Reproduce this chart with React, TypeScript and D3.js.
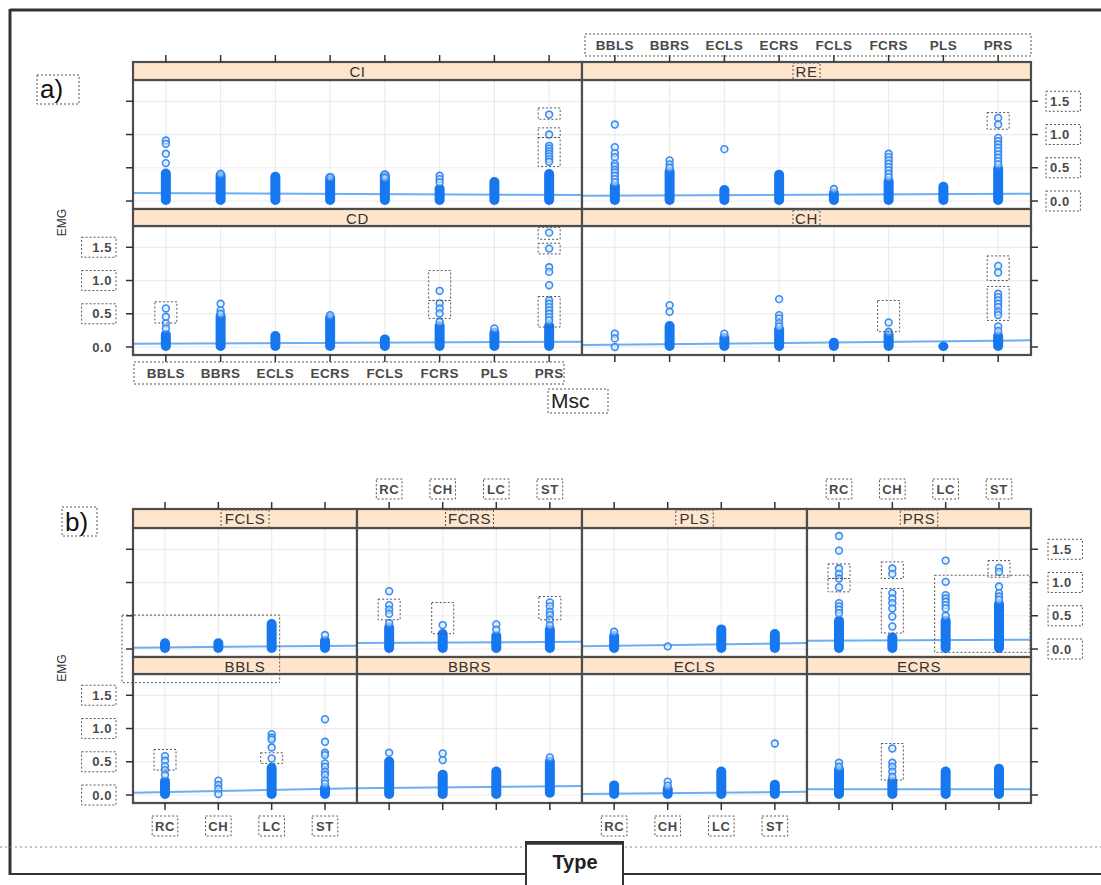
import React from "react";
import * as d3 from "d3";

// ---------- categories & ticks ----------
const mscLevels = ["BBLS", "BBRS", "ECLS", "ECRS", "FCLS", "FCRS", "PLS", "PRS"];
const typeLevels = ["RC", "CH", "LC", "ST"];
const yTickValues = [0, 0.5, 1.0, 1.5];
const yTickLabels = ["0.0", "0.5", "1.0", "1.5"];
const yDomain = [-0.12, 1.82];

// ---------- panel a) : EMG by Msc, conditioned on type ----------
// dense cores [lo, hi] (null = no dense core) and individual points
const ciCore = [[0, 0.43], [0, 0.4], [0, 0.38], [0, 0.36], [0, 0.4], [0, 0.2], [0, 0.3], [0, 0.42]];
const ciPoints = [[0.91, 0.86, 0.71, 0.57], [0.41], [], [0.36], [0.4, 0.35], [0.38, 0.33, 0.28], [], [1.3, 1.0, 0.83, 0.79, 0.75, 0.71, 0.67, 0.63, 0.59]];
const ciFit = [0.12, 0.09];

const reCore = [[0, 0.24], [0, 0.46], [0, 0.18], [0, 0.41], [0, 0.13], [0, 0.31], [0, 0.23], [0, 0.5]];
const rePoints = [[1.15, 0.81, 0.72, 0.66, 0.56, 0.52, 0.47, 0.43, 0.38, 0.33, 0.28], [0.61, 0.55, 0.5], [0.78], [], [0.18], [0.71, 0.66, 0.61, 0.56, 0.51, 0.46, 0.41, 0.36], [], [1.25, 1.15, 0.95, 0.9, 0.85, 0.8, 0.75, 0.7, 0.65, 0.6, 0.55]];
const reFit = [0.08, 0.11];

const cdCore = [[0, 0.2], [0, 0.48], [0, 0.18], [0, 0.46], [0, 0.13], [0, 0.33], [0, 0.23], [0, 0.33]];
const cdPoints = [[0.58, 0.455, 0.355, 0.28], [0.65, 0.55, 0.5], [], [0.48], [], [0.845, 0.655, 0.58, 0.505, 0.38], [0.28], [1.72, 1.48, 1.2, 1.13, 0.93, 0.7, 0.65, 0.6, 0.55, 0.5, 0.45, 0.4]];
const cdFit = [0.05, 0.08];

const chCore = [null, [0, 0.33], [0, 0.15], [0, 0.28], [0, 0.08], [0, 0.2], [0, 0.02], [0, 0.18]];
const chPoints = [[0.2, 0.13, 0.0], [0.63, 0.53], [0.2], [0.72, 0.48, 0.43, 0.36, 0.31], [], [0.37, 0.23], [], [1.22, 1.12, 0.8, 0.75, 0.7, 0.65, 0.6, 0.53, 0.48, 0.31, 0.24]];
const chFit = [0.03, 0.1];

// ---------- panel b) : EMG by Type, conditioned on Msc ----------
const fclsCore = [[0, 0.1], [0, 0.1], [0, 0.39], [0, 0.14]];
const fclsPoints = [[], [], [], [0.21]];
const fclsFit = [0.02, 0.05];

const fcrsCore = [[0, 0.34], [0, 0.24], [0, 0.21], [0, 0.31]];
const fcrsPoints = [[0.87, 0.66, 0.59, 0.53, 0.39], [0.36], [0.37, 0.29], [0.7, 0.64, 0.56, 0.51, 0.44, 0.36]];
const fcrsFit = [0.09, 0.11];

const plsCore = [[0, 0.21], null, [0, 0.31], [0, 0.24]];
const plsPoints = [[0.26], [0.04], [], []];
const plsFit = [0.04, 0.09];

const prsCore = [[0, 0.44], [0, 0.19], [0, 0.44], [0, 0.69]];
const prsPoints = [[1.7, 1.48, 1.21, 1.13, 1.06, 0.93, 0.69, 0.64, 0.59, 0.54], [1.21, 1.13, 0.84, 0.76, 0.69, 0.61, 0.49, 0.34], [1.33, 1.01, 0.81, 0.76, 0.71, 0.66, 0.61, 0.5], [1.22, 1.16, 0.94, 0.84, 0.79, 0.74]];
const prsFit = [0.125, 0.14];

const bblsCore = [[0, 0.22], null, [0, 0.42], [0, 0.12]];
const bblsPoints = [[0.585, 0.515, 0.435, 0.375, 0.3], [0.215, 0.15, 0.09, 0.015], [0.915, 0.865, 0.835, 0.715, 0.55], [1.14, 0.8, 0.635, 0.6, 0.475, 0.425, 0.35, 0.3, 0.22, 0.17]];
const bblsFit = [0.035, 0.1];

const bbrsCore = [[0, 0.52], [0, 0.32], [0, 0.37], [0.02, 0.52]];
const bbrsPoints = [[0.635], [0.625, 0.525], [], [0.565]];
const bbrsFit = [0.1, 0.135];

const eclsCore = [[0, 0.16], [0, 0.1], [0, 0.37], [0, 0.17]];
const eclsPoints = [[], [0.2, 0.14], [], [0.775]];
const eclsFit = [0.015, 0.05];

const ecrsCore = [[0, 0.4], [0, 0.22], [0, 0.37], [0, 0.41]];
const ecrsPoints = [[0.485, 0.425], [0.7, 0.485, 0.425, 0.35, 0.275], [], []];
const ecrsFit = [0.085, 0.085];

// dotted annotation boxes around point clusters: [panel, category, lo, hi]
const clusterBoxes: [string, string, number, number][] = [
  ["CI", "PRS", 1.23, 1.4], ["CI", "PRS", 0.955, 1.1], ["CI", "PRS", 0.52, 0.955],
  ["RE", "PRS", 1.08, 1.33],
  ["CD", "BBLS", 0.36, 0.68], ["CD", "FCRS", 0.7, 1.15], ["CD", "FCRS", 0.43, 0.7],
  ["CD", "PRS", 1.62, 1.8], ["CD", "PRS", 1.4, 1.56], ["CD", "PRS", 0.3, 0.76],
  ["CH", "FCRS", 0.23, 0.7], ["CH", "PRS", 1.0, 1.37], ["CH", "PRS", 0.4, 0.91],
  ["FCRS", "RC", 0.44, 0.75], ["FCRS", "CH", 0.23, 0.7], ["FCRS", "ST", 0.44, 0.79],
  ["PRS", "RC", 1.06, 1.28], ["PRS", "RC", 0.86, 1.06], ["PRS", "CH", 1.06, 1.31], ["PRS", "CH", 0.24, 0.91], ["PRS", "ST", 1.08, 1.33],
  ["BBLS", "RC", 0.375, 0.685], ["BBLS", "LC", 0.475, 0.635],
  ["ECRS", "CH", 0.225, 0.775],
];

// ---------- layout ----------
const FONT = "'Liberation Sans', Arial, Helvetica, sans-serif";
const colsA = [133, 582, 1031];
const rowsA = [{ strip: 62, top: 80, bot: 209 }, { strip: 209, top: 226, bot: 355 }];
const colsB = [133, 357, 582, 807, 1031];
const rowsB = [{ strip: 509, top: 528, bot: 657 }, { strip: 657, top: 674, bot: 803 }];

const STROKE = "#4d4d4d";
const DOT = "2,2";

type Row = { strip: number; top: number; bot: number };
type Spec = { name: string; cats: string[]; core: (number[] | null)[]; pts: number[][]; fit: number[]; x0: number; x1: number; row: Row; boxLabel?: boolean };

const xScale = (cats: string[], x0: number, x1: number) => d3.scalePoint<string>().domain(cats).range([x0, x1]).padding(0.6);
const yScale = (row: Row) => d3.scaleLinear().domain(yDomain).range([row.bot, row.top]);

function Panel({ s }: { s: Spec }) {
  const x = xScale(s.cats, s.x0, s.x1);
  const y = yScale(s.row);
  const cx = (s.x0 + s.x1) / 2;
  const labW = s.name.length * 10.5 + 6;
  const boxes = clusterBoxes.filter((b) => b[0] === s.name && s.cats.includes(b[1]));
  return (
    <g>
      <rect x={s.x0} y={s.row.top} width={s.x1 - s.x0} height={s.row.bot - s.row.top} fill="#fff" />
      {s.cats.map((c) => (
        <line key={"gv" + c} x1={x(c)} x2={x(c)} y1={s.row.top} y2={s.row.bot} stroke="#ececec" strokeWidth={1.2} />
      ))}
      {yTickValues.map((v) => (
        <line key={"gh" + v} x1={s.x0} x2={s.x1} y1={y(v)} y2={y(v)} stroke="#ececec" strokeWidth={1.2} />
      ))}
      <line x1={s.x0} x2={s.x1} y1={y(s.fit[0])} y2={y(s.fit[1])} stroke="#6aaef3" strokeWidth={2} />
      {s.cats.map((c, i) => {
        const r = s.core[i];
        if (!r) return null;
        return <rect key={"core" + c} x={(x(c) as number) - 5} y={y(r[1]) - 4} width={10} height={y(r[0]) - y(r[1]) + 8} rx={5} fill="#1677ee" />;
      })}
      {s.cats.map((c, i) =>
        s.pts[i].map((v, j) => (
          <circle key={"p" + c + j} cx={x(c)} cy={y(v)} r={3.4} fill="#d6e8fd" fillOpacity={0.6} stroke="#3a8cf0" strokeWidth={1.6} />
        ))
      )}
      {boxes.map((b, k) => (
        <rect key={"cb" + k} x={(x(b[1]) as number) - 11} y={y(b[3])} width={22} height={y(b[2]) - y(b[3])} fill="none" stroke="#555" strokeDasharray={DOT} strokeWidth={1} />
      ))}
      <rect x={s.x0} y={s.row.top} width={s.x1 - s.x0} height={s.row.bot - s.row.top} fill="none" stroke={STROKE} strokeWidth={2.2} />
      <rect x={s.x0} y={s.row.strip} width={s.x1 - s.x0} height={s.row.top - s.row.strip} fill="#ffe5cc" stroke={STROKE} strokeWidth={2.2} />
      <text x={cx} y={s.row.strip + 14.5} textAnchor="middle" fontFamily={FONT} fontSize={15} fill="#333" letterSpacing={0.6}>{s.name}</text>
      {s.boxLabel && (
        <rect x={cx - labW / 2} y={s.row.strip + 1} width={labW} height={s.row.top - s.row.strip - 1} fill="none" stroke="#555" strokeDasharray={DOT} strokeWidth={1} />
      )}
    </g>
  );
}

function TickLabel({ x, y, text, anchor = "middle", box = true }: { x: number; y: number; text: string; anchor?: string; box?: boolean }) {
  const w = text.length * 8.8 + 8;
  const bx = anchor === "middle" ? x - w / 2 : anchor === "end" ? x - w + 4 : x - 4;
  return (
    <g>
      <text x={x} y={y + 4.5} textAnchor={anchor as any} fontFamily={FONT} fontWeight="bold" fontSize={13} fill="#4a4a4a" letterSpacing={0.6}>{text}</text>
      {box && <rect x={bx} y={y - 10} width={w} height={20} fill="none" stroke="#555" strokeDasharray={DOT} strokeWidth={1} />}
    </g>
  );
}

export default function App() {
  const specsA: Spec[] = [
    { name: "CI", cats: mscLevels, core: ciCore, pts: ciPoints, fit: ciFit, x0: colsA[0], x1: colsA[1], row: rowsA[0] },
    { name: "RE", cats: mscLevels, core: reCore, pts: rePoints, fit: reFit, x0: colsA[1], x1: colsA[2], row: rowsA[0], boxLabel: true },
    { name: "CD", cats: mscLevels, core: cdCore, pts: cdPoints, fit: cdFit, x0: colsA[0], x1: colsA[1], row: rowsA[1] },
    { name: "CH", cats: mscLevels, core: chCore, pts: chPoints, fit: chFit, x0: colsA[1], x1: colsA[2], row: rowsA[1], boxLabel: true },
  ];
  const topB = [
    { name: "FCLS", core: fclsCore, pts: fclsPoints, fit: fclsFit },
    { name: "FCRS", core: fcrsCore, pts: fcrsPoints, fit: fcrsFit },
    { name: "PLS", core: plsCore, pts: plsPoints, fit: plsFit },
    { name: "PRS", core: prsCore, pts: prsPoints, fit: prsFit },
  ];
  const botB = [
    { name: "BBLS", core: bblsCore, pts: bblsPoints, fit: bblsFit },
    { name: "BBRS", core: bbrsCore, pts: bbrsPoints, fit: bbrsFit },
    { name: "ECLS", core: eclsCore, pts: eclsPoints, fit: eclsFit },
    { name: "ECRS", core: ecrsCore, pts: ecrsPoints, fit: ecrsFit },
  ];
  const specsB: Spec[] = [
    ...topB.map((d, i) => ({ ...d, cats: typeLevels, x0: colsB[i], x1: colsB[i + 1], row: rowsB[0], boxLabel: true })),
    ...botB.map((d, i) => ({ ...d, cats: typeLevels, x0: colsB[i], x1: colsB[i + 1], row: rowsB[1] })),
  ];

  const yA0 = yScale(rowsA[0]);
  const yA1 = yScale(rowsA[1]);
  const yB0 = yScale(rowsB[0]);
  const yB1 = yScale(rowsB[1]);

  const tickLine = (k: string, x1: number, y1: number, x2: number, y2: number) => (
    <line key={k} x1={x1} y1={y1} x2={x2} y2={y2} stroke="#333" strokeWidth={1.5} />
  );

  const ticks: JSX.Element[] = [];
  [0, 1].forEach((ci) => {
    const x = xScale(mscLevels, colsA[ci], colsA[ci + 1]);
    mscLevels.forEach((m) => {
      ticks.push(tickLine(`at${ci}${m}`, x(m)!, rowsA[0].strip - 7, x(m)!, rowsA[0].strip));
      ticks.push(tickLine(`ab${ci}${m}`, x(m)!, rowsA[1].bot, x(m)!, rowsA[1].bot + 7));
    });
  });
  [yA0, yA1].forEach((ys, ri) => {
    yTickValues.forEach((v) => {
      ticks.push(tickLine(`al${ri}${v}`, colsA[0] - 7, ys(v), colsA[0], ys(v)));
      ticks.push(tickLine(`ar${ri}${v}`, colsA[2], ys(v), colsA[2] + 7, ys(v)));
    });
  });
  [0, 1, 2, 3].forEach((ci) => {
    const x = xScale(typeLevels, colsB[ci], colsB[ci + 1]);
    typeLevels.forEach((t) => {
      ticks.push(tickLine(`bt${ci}${t}`, x(t)!, rowsB[0].strip - 7, x(t)!, rowsB[0].strip));
      ticks.push(tickLine(`bb${ci}${t}`, x(t)!, rowsB[1].bot, x(t)!, rowsB[1].bot + 7));
    });
  });
  [yB0, yB1].forEach((ys, ri) => {
    yTickValues.forEach((v) => {
      ticks.push(tickLine(`bl${ri}${v}`, colsB[0] - 7, ys(v), colsB[0], ys(v)));
      ticks.push(tickLine(`br${ri}${v}`, colsB[4], ys(v), colsB[4] + 7, ys(v)));
    });
  });

  const xTopA = xScale(mscLevels, colsA[1], colsA[2]);
  const xBotA = xScale(mscLevels, colsA[0], colsA[1]);
  const xFCLS = xScale(typeLevels, colsB[0], colsB[1]);
  const xPRS = xScale(typeLevels, colsB[3], colsB[4]);

  return (
    <svg width={1101} height={885} style={{ position: "absolute", left: 0, top: 0, background: "#fff" }} fontFamily={FONT}>
      <rect x={0} y={0} width={1101} height={885} fill="#fff" />
      {/* outer frame */}
      <line x1={10} y1={10} x2={1101} y2={10} stroke="#333" strokeWidth={3} />
      <line x1={10} y1={9} x2={10} y2={875} stroke="#333" strokeWidth={3} />
      <line x1={10} y1={874} x2={526} y2={874} stroke="#333" strokeWidth={2} />
      <line x1={623} y1={874} x2={1101} y2={874} stroke="#333" strokeWidth={2} />
      <line x1={0} y1={847} x2={1101} y2={847} stroke="#888" strokeWidth={1} strokeDasharray="2,3" />

      {specsA.map((s) => <Panel key={"a" + s.name} s={s} />)}
      {specsB.map((s) => <Panel key={"b" + s.name} s={s} />)}
      {ticks}

      {/* a) labels */}
      <text x={40} y={98} fontSize={26} fill="#111">a)</text>
      <rect x={37} y={75} width={42} height={29} fill="none" stroke="#555" strokeDasharray={DOT} />
      <text transform={`translate(66,${(rowsA[0].strip + rowsA[1].bot) / 2 + 14}) rotate(-90)`} textAnchor="middle" fontSize={12} fill="#333">EMG</text>
      {mscLevels.map((m) => (
        <text key={"tla" + m} x={xTopA(m)} y={50} textAnchor="middle" fontWeight="bold" fontSize={13.5} fill="#4a4a4a" letterSpacing={0.4}>{m}</text>
      ))}
      <rect x={585} y={34} width={446} height={22} fill="none" stroke="#555" strokeDasharray={DOT} />
      {mscLevels.map((m) => (
        <text key={"bla" + m} x={xBotA(m)} y={378} textAnchor="middle" fontWeight="bold" fontSize={13.5} fill="#4a4a4a" letterSpacing={0.4}>{m}</text>
      ))}
      <rect x={134} y={362} width={430} height={22} fill="none" stroke="#555" strokeDasharray={DOT} />
      {yTickValues.map((v, i) => (
        <TickLabel key={"yla" + v} x={112} y={yA1(v)} text={yTickLabels[i]} anchor="end" box={v > 0} />
      ))}
      {yTickValues.map((v, i) => (
        <TickLabel key={"yra" + v} x={1050} y={yA0(v)} text={yTickLabels[i]} anchor="start" />
      ))}
      <text x={551} y={408} fontSize={21} fill="#222">Msc</text>
      <rect x={548} y={389} width={60} height={24} fill="none" stroke="#555" strokeDasharray={DOT} />

      {/* b) labels */}
      <text x={65} y={531} fontSize={26} fill="#111">b)</text>
      <rect x={62} y={507} width={35} height={29} fill="none" stroke="#555" strokeDasharray={DOT} />
      <text transform={`translate(66,${(rowsB[0].strip + rowsB[1].bot) / 2 + 12}) rotate(-90)`} textAnchor="middle" fontSize={12} fill="#333">EMG</text>
      {[1, 3].map((ci) => {
        const x = xScale(typeLevels, colsB[ci], colsB[ci + 1]);
        return typeLevels.map((t) => <TickLabel key={"tlb" + ci + t} x={x(t)!} y={489} text={t} />);
      })}
      {[0, 2].map((ci) => {
        const x = xScale(typeLevels, colsB[ci], colsB[ci + 1]);
        return typeLevels.map((t) => <TickLabel key={"blb" + ci + t} x={x(t)!} y={826} text={t} />);
      })}
      {yTickValues.map((v, i) => (
        <TickLabel key={"ylb" + v} x={112} y={yB1(v)} text={yTickLabels[i]} anchor="end" />
      ))}
      {yTickValues.map((v, i) => (
        <TickLabel key={"yrb" + v} x={1052} y={yB0(v)} text={yTickLabels[i]} anchor="start" />
      ))}
      {/* large cluster boxes */}
      <rect x={colsB[0] - 11} y={yB0(0.51)} width={(xFCLS("LC") as number) + 8 - (colsB[0] - 11)} height={yB1(1.69) - yB0(0.51)} fill="none" stroke="#555" strokeDasharray={DOT} />
      <rect x={(xPRS("LC") as number) - 11} y={yB0(1.11)} width={colsB[4] - 1 - ((xPRS("LC") as number) - 11)} height={yB0(-0.05) - yB0(1.11)} fill="none" stroke="#555" strokeDasharray={DOT} />

      {/* Type box */}
      <rect x={526} y={842} width={97} height={50} fill="#fff" stroke="#333" strokeWidth={2} />
      <line x1={525} y1={843} x2={624} y2={843} stroke="#333" strokeWidth={3.5} />
      <text x={575} y={869} textAnchor="middle" fontWeight="bold" fontSize={20} fill="#222">Type</text>
    </svg>
  );
}
